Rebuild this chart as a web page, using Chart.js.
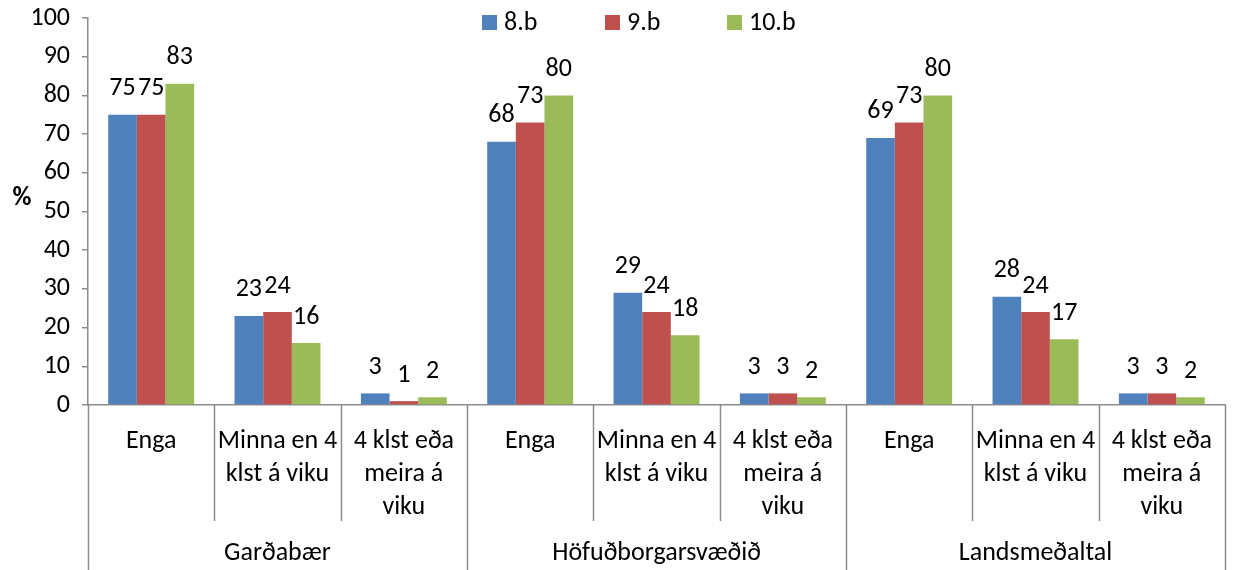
<!DOCTYPE html>
<html>
<head>
<meta charset="utf-8">
<script src="https://cdn.jsdelivr.net/npm/chart.js@4"></script>
<style>
  html, body { margin: 0; padding: 0; background: #fff; }
  #wrap { width: 1237px; height: 570px; }
</style>
</head>
<body>
<div id="wrap"><canvas id="chart" width="1237" height="570"></canvas></div>
<script>
// Gögn
const groups = ['Garðabær', 'Höfuðborgarsvæðið', 'Landsmeðaltal'];
const subLabels = [['Enga'], ['Minna en 4', 'klst á viku'], ['4 klst eða', 'meira á', 'viku']];
const categories = [];
groups.forEach(g => subLabels.forEach(s => categories.push(g + ' - ' + s.join(' '))));

const series = ['8.b', '9.b', '10.b'];
const values8 = [75, 23, 3, 68, 29, 3, 69, 28, 3];
const values9 = [75, 24, 1, 73, 24, 3, 73, 24, 3];
const values10 = [83, 16, 2, 80, 18, 2, 80, 17, 2];
const colors = ['#4F81BD', '#C0504D', '#9BBB59'];

const FONT = 'Carlito, Lato, sans-serif';
const FONT_SIZE = 26;
const AXIS_COLOR = '#8c8c8c';

// Gildi fyrir ofan súlur
const valueLabels = {
  id: 'valueLabels',
  afterDatasetsDraw(chart) {
    const ctx = chart.ctx;
    ctx.save();
    ctx.font = FONT_SIZE + 'px ' + FONT;
    ctx.fillStyle = '#000';
    ctx.textAlign = 'center';
    ctx.textBaseline = 'bottom';
    chart.data.datasets.forEach((ds, i) => {
      chart.getDatasetMeta(i).data.forEach((bar, j) => {
        ctx.fillText(String(ds.data[j]), bar.x, bar.y - 13);
      });
    });
    ctx.restore();
  }
};

// Tveggja þrepa x-ás, skýringar og %-merki
const axisDecor = {
  id: 'axisDecor',
  afterDraw(chart) {
    const ctx = chart.ctx;
    const x = chart.scales.x;
    const area = chart.chartArea;
    const n = categories.length;
    const step = (area.right - area.left) / n;
    ctx.save();
    ctx.strokeStyle = AXIS_COLOR;
    ctx.lineWidth = 1.5;
    // skilalínur
    for (let i = 0; i <= n; i++) {
      const px = Math.round(area.left + i * step) + 0.5;
      const bottom = (i % 3 === 0) ? chart.height : area.bottom + 116;
      ctx.beginPath();
      ctx.moveTo(px, area.bottom);
      ctx.lineTo(px, bottom);
      ctx.stroke();
    }
    ctx.font = FONT_SIZE + 'px ' + FONT;
    ctx.fillStyle = '#000';
    ctx.textAlign = 'center';
    ctx.textBaseline = 'middle';
    for (let i = 0; i < n; i++) {
      const cx = x.getPixelForValue(i);
      subLabels[i % 3].forEach((line, k) => {
        ctx.fillText(line, cx, area.bottom + 36 + k * 33);
      });
    }
    groups.forEach((g, gi) => {
      const cx = x.getPixelForValue(gi * 3 + 1);
      ctx.fillText(g, cx, chart.height - 17);
    });
    // %-merki
    ctx.font = 'bold ' + FONT_SIZE + 'px ' + FONT;
    ctx.fillText('%', 22, 198);
    // skýringar
    ctx.font = FONT_SIZE + 'px ' + FONT;
    ctx.textAlign = 'left';
    const legendX = [482, 605, 727];
    series.forEach((s, i) => {
      ctx.fillStyle = colors[i];
      ctx.fillRect(legendX[i], 15, 15, 15);
      ctx.fillStyle = '#000';
      ctx.fillText(s, legendX[i] + 22, 23);
    });
    ctx.restore();
  }
};

new Chart(document.getElementById('chart'), {
  type: 'bar',
  data: {
    labels: categories,
    datasets: [
      { label: series[0], data: values8, backgroundColor: colors[0] },
      { label: series[1], data: values9, backgroundColor: colors[1] },
      { label: series[2], data: values10, backgroundColor: colors[2] }
    ]
  },
  options: {
    responsive: false,
    animation: false,
    layout: { padding: { top: 18, right: 12, bottom: 157, left: 0 } },
    datasets: {
      bar: { categoryPercentage: 0.68, barPercentage: 1.0 }
    },
    plugins: {
      legend: { display: false },
      tooltip: { enabled: false }
    },
    scales: {
      x: {
        ticks: { display: false },
        grid: { display: false },
        border: { color: AXIS_COLOR, width: 1.5 }
      },
      y: {
        min: 0,
        max: 100,
        afterFit(scale) {
          scale.width = 88;
          scale.paddingTop = 0;
          scale.paddingBottom = 0;
        },
        ticks: {
          stepSize: 10,
          padding: 12,
          color: '#000',
          font: { family: FONT, size: FONT_SIZE }
        },
        grid: {
          drawOnChartArea: false,
          drawTicks: true,
          tickLength: 6,
          color: AXIS_COLOR,
          lineWidth: 1.5
        },
        border: { color: AXIS_COLOR, width: 1.5 }
      }
    }
  },
  plugins: [valueLabels, axisDecor]
});
</script>
</body>
</html>
